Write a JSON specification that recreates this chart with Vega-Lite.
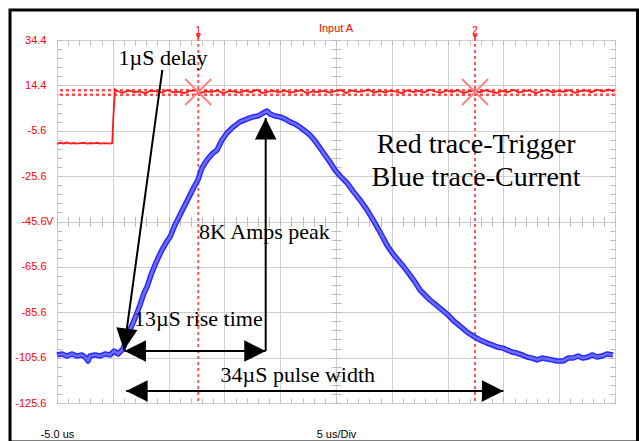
{
  "$schema": "https://vega.github.io/schema/vega-lite/v6.json",
  "width": 558,
  "height": 363,
  "autosize": {"type": "none"},
  "padding": {"left": 57, "top": 40, "right": 24, "bottom": 38},
  "background": "white",
  "config": {"view": {"stroke": "#c8c8c8", "strokeWidth": 1}, "font": "Liberation Sans"},
  "resolve": {"axis": {"x": "independent", "y": "independent"}},
  "datasets": {
    "blue": [
      {"t": -5.00, "v": -104.4}, {"t": -4.55, "v": -104.0}, {"t": -4.10, "v": -104.9}, {"t": -3.66, "v": -104.0}, {"t": -3.21, "v": -104.9}, {"t": -2.76, "v": -104.4}, {"t": -2.40, "v": -105.8}, {"t": -2.22, "v": -107.1}, {"t": -2.04, "v": -104.9}, {"t": -1.59, "v": -104.4}, {"t": -1.15, "v": -104.9}, {"t": -0.70, "v": -104.0}, {"t": -0.25, "v": -104.4}, {"t": 0.11, "v": -102.7}, {"t": 0.47, "v": -104.0}, {"t": 0.73, "v": -102.7}, {"t": 0.91, "v": -101.8}, {"t": 1.18, "v": -98.3}, {"t": 1.54, "v": -93.4}, {"t": 1.81, "v": -90.3}, {"t": 2.17, "v": -85.9}, {"t": 2.44, "v": -82.4}, {"t": 2.80, "v": -77.1}, {"t": 3.06, "v": -74.5}, {"t": 3.42, "v": -69.2}, {"t": 3.78, "v": -64.8}, {"t": 4.14, "v": -60.8}, {"t": 4.50, "v": -57.3}, {"t": 4.86, "v": -54.2}, {"t": 5.13, "v": -52.4}, {"t": 5.57, "v": -47.1}, {"t": 6.02, "v": -42.7}, {"t": 6.47, "v": -38.3}, {"t": 6.92, "v": -33.9}, {"t": 7.28, "v": -30.4}, {"t": 7.63, "v": -27.3}, {"t": 7.99, "v": -22.0}, {"t": 8.44, "v": -18.5}, {"t": 8.89, "v": -15.8}, {"t": 9.34, "v": -14.1}, {"t": 9.78, "v": -9.7}, {"t": 10.23, "v": -6.6}, {"t": 10.77, "v": -4.0}, {"t": 11.40, "v": -1.7}, {"t": 12.03, "v": -0.4}, {"t": 12.56, "v": 0.5}, {"t": 13.01, "v": 0.9}, {"t": 13.46, "v": 2.2}, {"t": 13.82, "v": 3.1}, {"t": 14.09, "v": 1.8}, {"t": 14.53, "v": 0.9}, {"t": 14.98, "v": 0.5}, {"t": 15.43, "v": -0.4}, {"t": 15.88, "v": -1.7}, {"t": 16.33, "v": -2.6}, {"t": 16.77, "v": -4.0}, {"t": 17.22, "v": -5.7}, {"t": 17.67, "v": -7.5}, {"t": 18.12, "v": -10.1}, {"t": 18.57, "v": -13.2}, {"t": 19.01, "v": -16.3}, {"t": 19.46, "v": -19.4}, {"t": 19.91, "v": -22.9}, {"t": 20.36, "v": -25.5}, {"t": 20.99, "v": -28.6}, {"t": 21.52, "v": -32.2}, {"t": 22.15, "v": -36.1}, {"t": 22.78, "v": -40.5}, {"t": 23.32, "v": -44.9}, {"t": 23.94, "v": -50.2}, {"t": 24.57, "v": -56.0}, {"t": 25.11, "v": -59.9}, {"t": 25.56, "v": -62.6}, {"t": 26.09, "v": -65.7}, {"t": 26.63, "v": -69.2}, {"t": 27.08, "v": -72.3}, {"t": 27.53, "v": -75.8}, {"t": 27.97, "v": -78.0}, {"t": 28.42, "v": -80.2}, {"t": 28.96, "v": -82.4}, {"t": 29.50, "v": -84.6}, {"t": 30.04, "v": -86.8}, {"t": 30.57, "v": -89.5}, {"t": 31.11, "v": -91.7}, {"t": 31.74, "v": -94.3}, {"t": 32.28, "v": -96.1}, {"t": 32.90, "v": -97.8}, {"t": 33.53, "v": -99.2}, {"t": 33.98, "v": -100.0}, {"t": 34.43, "v": -100.9}, {"t": 34.96, "v": -101.4}, {"t": 35.32, "v": -102.2}, {"t": 35.77, "v": -103.1}, {"t": 36.22, "v": -103.6}, {"t": 36.67, "v": -104.4}, {"t": 37.11, "v": -105.3}, {"t": 37.56, "v": -105.8}, {"t": 38.01, "v": -106.6}, {"t": 38.46, "v": -105.8}, {"t": 38.91, "v": -106.2}, {"t": 39.35, "v": -106.6}, {"t": 39.80, "v": -107.1}, {"t": 40.34, "v": -107.1}, {"t": 40.79, "v": -105.8}, {"t": 41.24, "v": -105.8}, {"t": 41.68, "v": -104.9}, {"t": 42.13, "v": -105.8}, {"t": 42.58, "v": -105.3}, {"t": 42.94, "v": -104.4}, {"t": 43.39, "v": -105.3}, {"t": 43.84, "v": -104.9}, {"t": 44.28, "v": -104.0}, {"t": 44.82, "v": -104.4}
    ],
    "red": [
      {"t": -5.0, "v": -11.4}, {"t": -4.7, "v": -10.9}, {"t": -4.4, "v": -11.2}, {"t": -4.1, "v": -10.8}, {"t": -3.8, "v": -11.3}, {"t": -3.5, "v": -11.0}, {"t": -3.2, "v": -11.3}, {"t": -2.9, "v": -11.1}, {"t": -2.6, "v": -10.9}, {"t": -2.3, "v": -11.3}, {"t": -2.0, "v": -11.0}, {"t": -1.7, "v": -11.2}, {"t": -1.4, "v": -10.9}, {"t": -1.1, "v": -11.3}, {"t": -0.8, "v": -11.1}, {"t": -0.5, "v": -11.2}, {"t": -0.25, "v": -11.3}, {"t": -0.05, "v": -11.0}, {"t": 0.05, "v": 0.5}, {"t": 0.2, "v": 12.6},
      {"t": 0.4, "v": 11.9}, {"t": 0.9, "v": 11.1}, {"t": 1.4, "v": 12.2}, {"t": 1.9, "v": 11.4}, {"t": 2.4, "v": 11.7}, {"t": 2.9, "v": 10.9}, {"t": 3.4, "v": 12.1}, {"t": 3.9, "v": 11.8}, {"t": 4.4, "v": 11.2}, {"t": 4.9, "v": 12.4}, {"t": 5.4, "v": 11.3}, {"t": 5.9, "v": 11.6}, {"t": 6.4, "v": 11.0}, {"t": 6.9, "v": 12.0}, {"t": 7.4, "v": 12.3}, {"t": 7.9, "v": 11.1}, {"t": 8.4, "v": 11.8}, {"t": 8.9, "v": 11.5}, {"t": 9.4, "v": 12.2}, {"t": 9.9, "v": 10.8}, {"t": 10.4, "v": 11.9}, {"t": 10.9, "v": 11.7}, {"t": 11.4, "v": 11.2}, {"t": 11.9, "v": 12.1}, {"t": 12.4, "v": 11.4}, {"t": 12.9, "v": 12.5}, {"t": 13.4, "v": 11.0}, {"t": 13.9, "v": 11.6}, {"t": 14.4, "v": 12.0}, {"t": 14.9, "v": 11.3}, {"t": 15.4, "v": 12.2}, {"t": 15.9, "v": 11.1}, {"t": 16.4, "v": 11.8}, {"t": 16.9, "v": 12.3}, {"t": 17.4, "v": 10.9}, {"t": 17.9, "v": 11.7}, {"t": 18.4, "v": 11.4}, {"t": 18.9, "v": 12.1}, {"t": 19.4, "v": 11.2}, {"t": 19.9, "v": 11.9}, {"t": 20.4, "v": 12.4}, {"t": 20.9, "v": 11.0}, {"t": 21.4, "v": 12.2}, {"t": 21.9, "v": 11.5}, {"t": 22.4, "v": 11.8}, {"t": 22.9, "v": 12.6}, {"t": 23.4, "v": 11.2}, {"t": 23.9, "v": 11.9}, {"t": 24.4, "v": 11.3}, {"t": 24.9, "v": 12.1}, {"t": 25.4, "v": 11.6}, {"t": 25.9, "v": 10.9}, {"t": 26.4, "v": 12.3}, {"t": 26.9, "v": 11.4}, {"t": 27.4, "v": 12.0}, {"t": 27.9, "v": 11.2}, {"t": 28.4, "v": 12.5}, {"t": 28.9, "v": 11.7}, {"t": 29.4, "v": 11.1}, {"t": 29.9, "v": 12.2}, {"t": 30.4, "v": 11.5}, {"t": 30.9, "v": 12.4}, {"t": 31.4, "v": 11.0}, {"t": 31.9, "v": 11.8}, {"t": 32.4, "v": 12.1}, {"t": 32.9, "v": 11.3}, {"t": 33.4, "v": 12.3}, {"t": 33.9, "v": 11.6}, {"t": 34.4, "v": 11.1}, {"t": 34.9, "v": 12.0}, {"t": 35.4, "v": 11.4}, {"t": 35.9, "v": 12.5}, {"t": 36.4, "v": 11.2}, {"t": 36.9, "v": 11.9}, {"t": 37.4, "v": 12.2}, {"t": 37.9, "v": 10.9}, {"t": 38.4, "v": 11.8}, {"t": 38.9, "v": 12.4}, {"t": 39.4, "v": 11.3}, {"t": 39.9, "v": 12.0}, {"t": 40.4, "v": 11.6}, {"t": 40.9, "v": 12.3}, {"t": 41.4, "v": 11.1}, {"t": 41.9, "v": 11.9}, {"t": 42.4, "v": 12.2}, {"t": 42.9, "v": 11.4}, {"t": 43.4, "v": 12.5}, {"t": 43.9, "v": 11.7}, {"t": 44.4, "v": 12.6}, {"t": 44.9, "v": 11.8}
    ],
    "cursors": [
      {"t": 7.66, "label": "1", "top": 35.3, "bottom": -125.6, "mark": 11.5, "tri": 35.85, "lab": 36.9},
      {"t": 32.46, "label": "2", "top": 35.3, "bottom": -125.6, "mark": 11.5, "tri": 35.85, "lab": 36.9}
    ],
    "arrows": [
      {"t": 4.44, "v": 21.2, "t2": 1.0, "v2": -102.2},
      {"t": 13.7, "v": 0.0, "t2": 13.7, "v2": -102.7},
      {"t": 1.05, "v": -102.7, "t2": 13.7, "v2": -102.7},
      {"t": 1.2, "v": -120.3, "t2": 35.0, "v2": -120.3}
    ]
  },
  "layer": [
    {
      "data": {"values": [{"t": -9.21, "t2": 47.02, "v": 47.62, "v2": -142.8}]},
      "mark": {"type": "rect", "filled": false, "stroke": "#000000", "strokeWidth": 3},
      "encoding": {
        "x": {"field": "t", "type": "quantitative", "scale": {"domain": [-5, 45], "nice": false, "zero": false},
          "axis": {"orient": "bottom", "values": [-5, 0, 5, 10, 15, 20, 25, 30, 35, 40, 45], "grid": true, "gridColor": "#cfcfcf", "gridWidth": 1,
            "ticks": false, "tickSize": 0, "domain": false, "labelExpr": "datum.value == -5 ? '-5.0 us' : ''", "labelFlush": false, "labelOverlap": false,
            "labelPadding": 34, "labelBaseline": "alphabetic", "labelFont": "Liberation Sans", "labelFontSize": 11, "labelColor": "#000000",
            "title": "5 us/Div", "titleFont": "Liberation Sans", "titleFontSize": 11, "titleFontWeight": "normal", "titleColor": "#000000", "titleY": 34, "titleBaseline": "alphabetic"}},
        "x2": {"field": "t2"},
        "y": {"field": "v", "type": "quantitative", "scale": {"domain": [-125.6, 34.4], "nice": false, "zero": false},
          "axis": {"orient": "left", "values": [-125.6, -105.6, -85.6, -65.6, -45.6, -25.6, -5.6, 14.4, 34.4], "grid": true, "gridColor": "#cfcfcf", "gridWidth": 1,
            "ticks": false, "tickSize": 0, "domain": false, "labelExpr": "toString(datum.value)", "labelFlush": false, "labelOverlap": false,
            "labelPadding": 11, "labelFont": "Liberation Sans", "labelFontSize": 11, "labelColor": "#ff0000", "title": null}},
        "y2": {"field": "v2"}
      }
    },
    {
      "data": {"values": [{"level": 12.2}, {"level": 10.3}]},
      "mark": {"type": "rule", "stroke": "#ff4d4d", "strokeWidth": 2.5, "strokeDash": [3, 3]},
      "encoding": {
        "y": {"field": "level", "type": "quantitative", "scale": {"domain": [-125.6, 34.4], "nice": false, "zero": false}, "axis": null}
      }
    },
    {
      "data": {"name": "cursors"},
      "mark": {"type": "rule", "stroke": "#ff5555", "strokeWidth": 2, "strokeDash": [3, 3]},
      "encoding": {
        "x": {"field": "t", "type": "quantitative", "scale": {"domain": [-5, 45], "nice": false, "zero": false}, "axis": null},
        "y": {"field": "top", "type": "quantitative", "scale": {"domain": [-125.6, 34.4], "nice": false, "zero": false}, "axis": null},
        "y2": {"field": "bottom"}
      }
    },
    {
      "data": {"name": "blue"},
      "mark": {"type": "line", "stroke": "#2a2aff", "strokeWidth": 5.5, "strokeJoin": "round"},
      "encoding": {
        "x": {"field": "t", "type": "quantitative", "scale": {"domain": [-5, 45], "nice": false, "zero": false},
          "axis": {"orient": "bottom", "values": [-5,-4,-3,-2,-1,0,1,2,3,4,5,6,7,8,9,10,11,12,13,14,15,16,17,18,19,20,21,22,23,24,25,26,27,28,29,30,31,32,33,34,35,36,37,38,39,40,41,42,43,44,45],
            "grid": false, "ticks": true, "tickSize": -5, "tickWidth": 1, "tickColor": "#bdbdbd", "domain": false, "labels": false, "title": null}},
        "y": {"field": "v", "type": "quantitative", "scale": {"domain": [-125.6, 34.4], "nice": false, "zero": false},
          "axis": {"orient": "left", "values": [-125.6,-121.6,-117.6,-113.6,-109.6,-105.6,-101.6,-97.6,-93.6,-89.6,-85.6,-81.6,-77.6,-73.6,-69.6,-65.6,-61.6,-57.6,-53.6,-49.6,-45.6,-41.6,-37.6,-33.6,-29.6,-25.6,-21.6,-17.6,-13.6,-9.6,-5.6,-1.6,2.4,6.4,10.4,14.4,18.4,22.4,26.4,30.4,34.4],
            "grid": false, "ticks": true, "tickSize": -5, "tickWidth": 1, "tickColor": "#bdbdbd", "domain": false, "labels": false, "title": null}}
      }
    },
    {
      "data": {"name": "blue"},
      "mark": {"type": "line", "stroke": "#6c6cf6", "strokeWidth": 2.5, "strokeJoin": "round"},
      "encoding": {
        "x": {"field": "t", "type": "quantitative", "scale": {"domain": [-5, 45], "nice": false, "zero": false},
          "axis": {"orient": "top", "values": [-5,-4,-3,-2,-1,0,1,2,3,4,5,6,7,8,9,10,11,12,13,14,15,16,17,18,19,20,21,22,23,24,25,26,27,28,29,30,31,32,33,34,35,36,37,38,39,40,41,42,43,44,45],
            "grid": false, "ticks": true, "tickSize": -5, "tickWidth": 1, "tickColor": "#bdbdbd", "domain": false, "labels": false, "title": null}},
        "y": {"field": "v", "type": "quantitative", "scale": {"domain": [-125.6, 34.4], "nice": false, "zero": false},
          "axis": {"orient": "right", "values": [-125.6,-121.6,-117.6,-113.6,-109.6,-105.6,-101.6,-97.6,-93.6,-89.6,-85.6,-81.6,-77.6,-73.6,-69.6,-65.6,-61.6,-57.6,-53.6,-49.6,-45.6,-41.6,-37.6,-33.6,-29.6,-25.6,-21.6,-17.6,-13.6,-9.6,-5.6,-1.6,2.4,6.4,10.4,14.4,18.4,22.4,26.4,30.4,34.4],
            "grid": false, "ticks": true, "tickSize": -5, "tickWidth": 1, "tickColor": "#bdbdbd", "domain": false, "labels": false, "title": null}}
      }
    },
    {
      "data": {"name": "red"},
      "mark": {"type": "line", "stroke": "#ff1a1a", "strokeWidth": 1.8},
      "encoding": {
        "x": {"field": "t", "type": "quantitative", "scale": {"domain": [-5, 45], "nice": false, "zero": false},
          "axis": {"orient": "bottom", "offset": {"expr": "-186.5"}, "values": [-5,-4,-3,-2,-1,0,1,2,3,4,5,6,7,8,9,10,11,12,13,14,15,16,17,18,19,20,21,22,23,24,25,26,27,28,29,30,31,32,33,34,35,36,37,38,39,40,41,42,43,44,45],
            "grid": false, "ticks": true, "tickSize": 10, "tickWidth": 1, "tickColor": "#bdbdbd", "domain": false, "labels": false, "title": null}},
        "y": {"field": "v", "type": "quantitative", "scale": {"domain": [-125.6, 34.4], "nice": false, "zero": false},
          "axis": {"orient": "left", "offset": {"expr": "-284"}, "values": [-125.6,-121.6,-117.6,-113.6,-109.6,-105.6,-101.6,-97.6,-93.6,-89.6,-85.6,-81.6,-77.6,-73.6,-69.6,-65.6,-61.6,-57.6,-53.6,-49.6,-45.6,-41.6,-37.6,-33.6,-29.6,-25.6,-21.6,-17.6,-13.6,-9.6,-5.6,-1.6,2.4,6.4,10.4,14.4,18.4,22.4,26.4,30.4,34.4],
            "grid": false, "ticks": true, "tickSize": 10, "tickWidth": 1, "tickColor": "#bdbdbd", "domain": false, "labels": false, "title": null}}
      }
    },
    {
      "data": {"name": "cursors"},
      "mark": {"type": "point", "shape": "M-1,-1L1,1M-1,1L1,-1", "filled": false, "stroke": "#ff8080", "strokeWidth": 2, "size": 676, "opacity": 1},
      "encoding": {
        "x": {"field": "t", "type": "quantitative", "scale": {"domain": [-5, 45], "nice": false, "zero": false}, "axis": null},
        "y": {"field": "mark", "type": "quantitative", "scale": {"domain": [-125.6, 34.4], "nice": false, "zero": false}, "axis": null}
      }
    },
    {
      "data": {"name": "cursors"},
      "mark": {"type": "point", "shape": "triangle-down", "filled": true, "fill": "#ff2020", "size": 30, "opacity": 1},
      "encoding": {
        "x": {"field": "t", "type": "quantitative", "scale": {"domain": [-5, 45], "nice": false, "zero": false}, "axis": null},
        "y": {"field": "tri", "type": "quantitative", "scale": {"domain": [-125.6, 34.4], "nice": false, "zero": false}, "axis": null}
      }
    },
    {
      "data": {"name": "cursors"},
      "mark": {"type": "text", "font": "Liberation Sans", "fontSize": 10, "fill": "#ff0000", "align": "center", "baseline": "alphabetic"},
      "encoding": {
        "x": {"field": "t", "type": "quantitative", "scale": {"domain": [-5, 45], "nice": false, "zero": false}, "axis": null},
        "y": {"field": "lab", "type": "quantitative", "scale": {"domain": [-125.6, 34.4], "nice": false, "zero": false}, "axis": null},
        "text": {"field": "label"}
      }
    },
    {
      "data": {"name": "arrows"},
      "mark": {"type": "rule", "stroke": "#000000", "strokeWidth": 2},
      "encoding": {
        "x": {"field": "t", "type": "quantitative", "scale": {"domain": [-5, 45], "nice": false, "zero": false}, "axis": null},
        "x2": {"field": "t2"},
        "y": {"field": "v", "type": "quantitative", "scale": {"domain": [-125.6, 34.4], "nice": false, "zero": false}, "axis": null},
        "y2": {"field": "v2"}
      }
    },
    {
      "data": {"values": [{"t": 13.7, "v": -102.7}, {"t": 35.0, "v": -120.3}]},
      "mark": {"type": "point", "shape": "M0,0L-2,-1L-2,1Z", "filled": true, "fill": "#000000", "size": 460, "angle": 0, "opacity": 1},
      "encoding": {
        "x": {"field": "t", "type": "quantitative", "scale": {"domain": [-5, 45], "nice": false, "zero": false}, "axis": null},
        "y": {"field": "v", "type": "quantitative", "scale": {"domain": [-125.6, 34.4], "nice": false, "zero": false}, "axis": null}
      }
    },
    {
      "data": {"values": [{"t": 1.05, "v": -102.7}, {"t": 1.2, "v": -120.3}]},
      "mark": {"type": "point", "shape": "M0,0L-2,-1L-2,1Z", "filled": true, "fill": "#000000", "size": 460, "angle": 180, "opacity": 1},
      "encoding": {
        "x": {"field": "t", "type": "quantitative", "scale": {"domain": [-5, 45], "nice": false, "zero": false}, "axis": null},
        "y": {"field": "v", "type": "quantitative", "scale": {"domain": [-125.6, 34.4], "nice": false, "zero": false}, "axis": null}
      }
    },
    {
      "data": {"values": [{"t": 13.7, "v": 0.0}]},
      "mark": {"type": "point", "shape": "M0,0L-2,-1L-2,1Z", "filled": true, "fill": "#000000", "size": 460, "angle": 270, "opacity": 1},
      "encoding": {
        "x": {"field": "t", "type": "quantitative", "scale": {"domain": [-5, 45], "nice": false, "zero": false}, "axis": null},
        "y": {"field": "v", "type": "quantitative", "scale": {"domain": [-125.6, 34.4], "nice": false, "zero": false}, "axis": null}
      }
    },
    {
      "data": {"values": [{"t": 1.0, "v": -102.2}]},
      "mark": {"type": "point", "shape": "M0,0L-2,-1L-2,1Z", "filled": true, "fill": "#000000", "size": 460, "angle": 97.8, "opacity": 1},
      "encoding": {
        "x": {"field": "t", "type": "quantitative", "scale": {"domain": [-5, 45], "nice": false, "zero": false}, "axis": null},
        "y": {"field": "v", "type": "quantitative", "scale": {"domain": [-125.6, 34.4], "nice": false, "zero": false}, "axis": null}
      }
    },
    {
      "data": {"values": [
        {"t": 4.50, "v": 23.4, "text": "1µS delay"},
        {"t": 13.59, "v": -53.5, "text": "8K Amps peak"},
        {"t": 7.66, "v": -91.7, "text": "13µS rise time"},
        {"t": 16.58, "v": -116.2, "text": "34µS pulse width"}
      ]},
      "mark": {"type": "text", "font": "Liberation Serif", "fontSize": 22, "fill": "#000000", "align": "center", "baseline": "alphabetic"},
      "encoding": {
        "x": {"field": "t", "type": "quantitative", "scale": {"domain": [-5, 45], "nice": false, "zero": false}, "axis": null},
        "y": {"field": "v", "type": "quantitative", "scale": {"domain": [-125.6, 34.4], "nice": false, "zero": false}, "axis": null},
        "text": {"field": "text"}
      }
    },
    {
      "data": {"values": [
        {"t": 32.55, "v": -15.5, "text": "Red trace-Trigger"},
        {"t": 32.55, "v": -29.95, "text": "Blue trace-Current"}
      ]},
      "mark": {"type": "text", "font": "Liberation Serif", "fontSize": 28, "fill": "#000000", "align": "center", "baseline": "alphabetic"},
      "encoding": {
        "x": {"field": "t", "type": "quantitative", "scale": {"domain": [-5, 45], "nice": false, "zero": false}, "axis": null},
        "y": {"field": "v", "type": "quantitative", "scale": {"domain": [-125.6, 34.4], "nice": false, "zero": false}, "axis": null},
        "text": {"field": "text"}
      }
    },
    {
      "data": {"values": [{"t": 20, "v": 38.06, "text": "Input A"}]},
      "mark": {"type": "text", "font": "Liberation Sans", "fontSize": 11, "fill": "#ff0000", "align": "center", "baseline": "alphabetic"},
      "encoding": {
        "x": {"field": "t", "type": "quantitative", "scale": {"domain": [-5, 45], "nice": false, "zero": false}, "axis": null},
        "y": {"field": "v", "type": "quantitative", "scale": {"domain": [-125.6, 34.4], "nice": false, "zero": false}, "axis": null},
        "text": {"field": "text"}
      }
    },
    {
      "data": {"values": [{"t": -5.99, "v": -45.6, "text": "V"}]},
      "mark": {"type": "text", "font": "Liberation Sans", "fontSize": 11, "fill": "#ff0000", "align": "left", "baseline": "middle"},
      "encoding": {
        "x": {"field": "t", "type": "quantitative", "scale": {"domain": [-5, 45], "nice": false, "zero": false}, "axis": null},
        "y": {"field": "v", "type": "quantitative", "scale": {"domain": [-125.6, 34.4], "nice": false, "zero": false}, "axis": null},
        "text": {"field": "text"}
      }
    }
  ]
}
